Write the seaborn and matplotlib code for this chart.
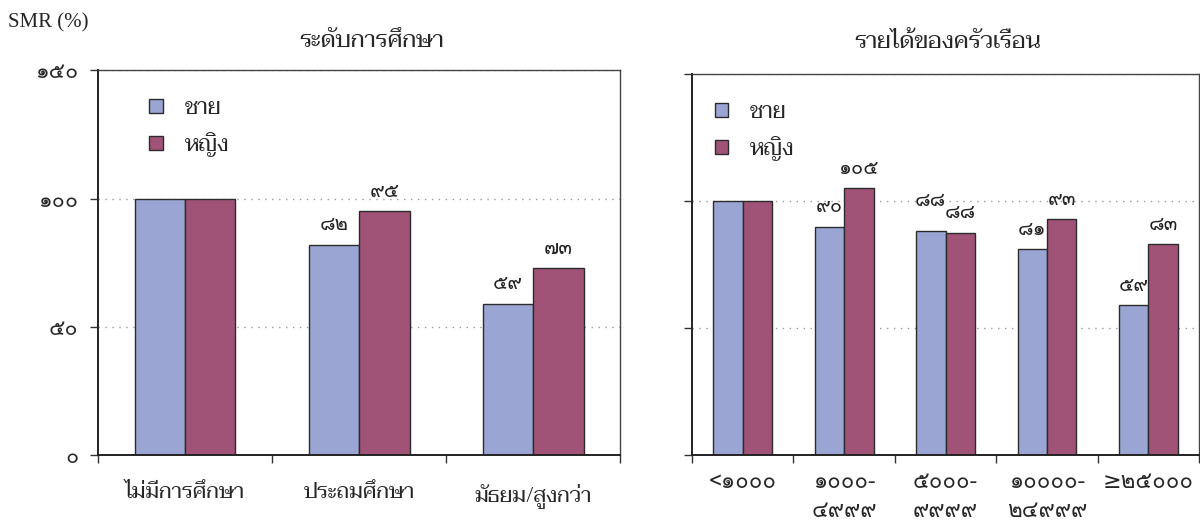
import matplotlib
matplotlib.use("Agg")
import matplotlib.pyplot as plt
import seaborn as sns
import pandas as pd
from matplotlib import font_manager
from matplotlib.ft2font import FT2Font
from matplotlib.patches import Patch

# ---------------- data ----------------
edu_categories = ["ไม่มีการศึกษา", "ประถมศึกษา", "มัธยม/สูงกว่า"]
edu_male = [100, 82, 59]
edu_female = [100, 95, 73]

inc_categories = ["<1000", "1000-\n4999", "5000-\n9999", "10000-\n24999", "≥25000"]
inc_male = [100, 90, 88.4, 81, 59]
inc_female = [100, 105, 87.6, 93, 83]

series_names = ["ชาย", "หญิง"]
y_ticks = [0, 50, 100, 150]
title_left = "ระดับการศึกษา"
title_right = "รายได้ของครัวเรือน"
y_label = "SMR (%)"

colors = ["#9AA5D3", "#A05377"]

THAI_DIGITS = str.maketrans("0123456789", "๐๑๒๓๔๕๖๗๘๙")


def thai(s):
    return str(s).translate(THAI_DIGITS)


# ---------------- fonts ----------------
sns.set_theme(style="white")
thai_fonts = []
for f in font_manager.fontManager.ttflist:
    try:
        cm = FT2Font(f.fname).get_charmap()
    except Exception:
        continue
    if 0x0E0A in cm and f.name not in thai_fonts:
        thai_fonts.append(f.name)


def pick(prefs):
    got = [p for p in prefs if p in thai_fonts][:1] or thai_fonts[:1]
    return got + ["DejaVu Sans"]


TEXT_FAM = pick(["Taviraj", "Noto Serif Thai", "FreeSerif"])
NUM_FAM = pick(["Loma", "Noto Sans Thai", "FreeSerif"])
plt.rcParams["font.family"] = TEXT_FAM

# ---------------- figure ----------------
fig = plt.figure(figsize=(12, 5.22), dpi=100)
axL = fig.add_axes([0.0817, 0.128, 0.435, 0.7375])
axR = fig.add_axes([0.5767, 0.128, 0.4225, 0.73])


def draw(ax, cats, male, female, show_ylabels, cat_fam, cat_size, cat_pad,
         cat_ls):
    df = pd.DataFrame({
        "cat": list(cats) * 2,
        "sex": [series_names[0]] * len(cats) + [series_names[1]] * len(cats),
        "val": list(male) + list(female),
    })
    sns.barplot(data=df, x="cat", y="val", hue="sex", order=cats,
                hue_order=series_names, palette=colors, width=0.58,
                edgecolor="#2b2b2b", linewidth=1.0, saturation=1, ax=ax,
                errorbar=None, legend=False)
    ax.set_ylim(0, 150)
    ax.set_xlim(-0.5, len(cats) - 0.5)
    ax.set_yticks(y_ticks)
    if show_ylabels:
        ax.set_yticklabels([thai(t) for t in y_ticks], fontsize=15.5,
                           family=NUM_FAM)
    else:
        ax.set_yticklabels([])
    ax.set_xticks(range(len(cats)))
    ax.set_xticklabels([thai(c) for c in cats], fontsize=cat_size,
                       linespacing=cat_ls, family=cat_fam)
    ax.set_xticks([i - 0.5 for i in range(len(cats) + 1)], minor=True)
    ax.tick_params(axis="x", which="major", length=0, pad=cat_pad)
    ax.tick_params(axis="x", which="minor", length=6, width=1, color="#333333",
                   direction="out", bottom=True)
    ax.tick_params(axis="y", length=6, width=1, color="#333333",
                   direction="out", left=True, pad=8)
    ax.set_xlabel("")
    ax.set_ylabel("")
    ax.yaxis.grid(True, linestyle=(0, (1, 4)), color="#9a9a9a", linewidth=1)
    ax.xaxis.grid(False)
    ax.set_axisbelow(True)
    for s in ["left", "bottom"]:
        ax.spines[s].set_color("#222222")
        ax.spines[s].set_linewidth(1.4)
    for s in ["top", "right"]:
        ax.spines[s].set_color("#444444")
        ax.spines[s].set_linewidth(1.0)
    for i in range(1, len(cats)):
        m, f = male[i], female[i]
        close = abs(m - f) < 3
        for j, v in enumerate([m, f]):
            x = i + (-0.145 if j == 0 else 0.145)
            lift = 4
            if close and v >= max(m, f):
                lift += 4
            ax.text(x, v + lift, thai(round(v)), ha="center",
                    va="bottom", fontsize=14.5, color="#222222", family=NUM_FAM)
    return [Patch(facecolor=c, edgecolor="#2b2b2b", linewidth=1.0) for c in colors]


hL = draw(axL, edu_categories, edu_male, edu_female, True, TEXT_FAM, 15.5, 20, 1.2)
hR = draw(axR, inc_categories, inc_male, inc_female, False, NUM_FAM, 16, 12, 1.5)

axL.legend(hL, series_names, loc="upper left", bbox_to_anchor=(0.06, 0.98),
           frameon=False, fontsize=16, handlelength=0.6, handleheight=0.6,
           labelspacing=0.6, handletextpad=1.0)
axR.legend(hR, series_names, loc="upper left", bbox_to_anchor=(0.005, 0.98),
           frameon=False, fontsize=16, handlelength=0.6, handleheight=0.6,
           labelspacing=0.6, handletextpad=1.0)

fig.text(0.31, 0.92, title_left, ha="center", va="center", fontsize=17)
fig.text(0.79, 0.918, title_right, ha="center", va="center", fontsize=17)
fig.text(0.007, 0.957, y_label, ha="left", va="center", fontsize=15,
         family=["Liberation Serif", "DejaVu Serif"])

fig.savefig("out.png", dpi=100)
